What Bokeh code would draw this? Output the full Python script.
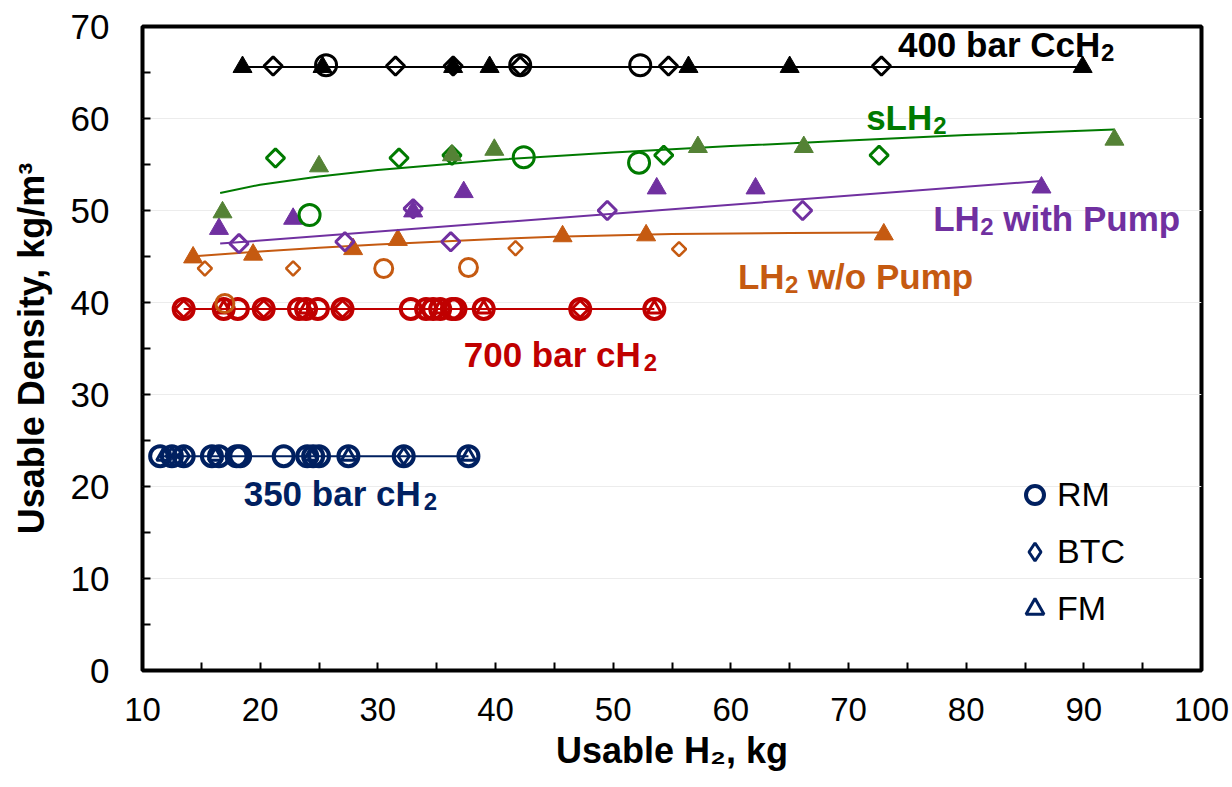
import numpy as np
from bokeh.plotting import figure
from bokeh.models import FixedTicker, Legend, LegendItem
from bokeh.core.properties import value
from bokeh.embed import file_html
from bokeh.resources import INLINE

# ---------------------------------------------------------------- data
# Usable H2 (kg) and usable density (kg/m3) per storage system and method
# RM = circles, BTC = diamonds, FM = triangles

# 350 bar cH2
h350_rm_x = [11.5, 12.5, 13.5, 15.9, 16.5, 18.0, 18.3, 22.0, 24.0, 24.5, 25.0, 27.5, 32.2, 37.7]
h350_rm_y = [23.3] * len(h350_rm_x)
h350_btc_x = [12.5, 13.5, 32.2]
h350_btc_y = [23.3] * len(h350_btc_x)
h350_fm_x = [11.8, 16.2, 24.3, 27.5, 37.7]
h350_fm_y = [23.3] * len(h350_fm_x)
h350_fit_x = [11.5, 37.7]
h350_fit_y = [23.3, 23.3]

# 700 bar cH2
h700_rm_x = [13.5, 16.9, 18.1, 20.3, 23.3, 23.9, 24.9, 27.0, 32.8, 34.1, 34.7,
             35.3, 36.3, 36.6, 39.0, 47.2, 53.5]
h700_rm_y = [39.3] * len(h700_rm_x)
h700_btc_x = [13.5, 20.3, 27.0, 47.2]
h700_btc_y = [39.3] * len(h700_btc_x)
h700_fm_x = [16.9, 23.9, 35.3, 39.0, 53.5]
h700_fm_y = [39.3] * len(h700_fm_x)
h700_fit_x = [13.5, 53.5]
h700_fit_y = [39.3, 39.3]

# LH2 without pump
lh2_rm_x = [17.0, 30.5, 37.7]
lh2_rm_y = [39.9, 43.7, 43.8]
lh2_btc_x = [15.3, 22.8, 41.7, 55.6]
lh2_btc_y = [43.7, 43.7, 45.9, 45.8]
lh2_fm_x = [14.3, 19.4, 27.9, 31.7, 45.7, 52.8, 73.0]
lh2_fm_y = [44.9, 45.2, 45.8, 46.8, 47.2, 47.3, 47.4]
lh2_fit_x = [14.1, 20.0, 25.0, 30.0, 35.0, 40.0, 45.0, 55.0, 65.0, 73.0]
lh2_fit_y = [45.0, 45.55, 45.95, 46.3, 46.6, 46.9, 47.15, 47.45, 47.55, 47.6]

# LH2 with pump
lh2p_btc_x = [18.2, 27.2, 33.0, 36.2, 49.5, 66.1]
lh2p_btc_y = [46.4, 46.6, 50.2, 46.6, 50.0, 50.0]
lh2p_fm_x = [16.5, 22.8, 33.0, 37.3, 53.7, 62.1, 86.4]
lh2p_fm_y = [48.0, 49.1, 49.9, 52.0, 52.4, 52.4, 52.5]
lh2p_fit_x = [16.6, 86.4]
lh2p_fit_y = [46.4, 53.2]

# sLH2
slh2_rm_x = [24.2, 42.4, 52.2]
slh2_rm_y = [49.5, 55.8, 55.2]
slh2_btc_x = [21.3, 31.8, 36.3, 54.3, 72.6]
slh2_btc_y = [55.7, 55.7, 56.0, 56.0, 56.0]
slh2_fm_x = [16.8, 25.0, 36.3, 39.9, 57.2, 66.2, 92.6]
slh2_fm_y = [49.8, 54.8, 56.0, 56.6, 56.9, 56.9, 57.7]
slh2_fit_x = [16.6, 20.0, 25.0, 30.0, 40.0, 50.0, 60.0, 70.0, 80.0, 92.6]
slh2_fit_y = [51.9, 52.8, 53.7, 54.4, 55.5, 56.3, 57.0, 57.6, 58.2, 58.8]

# 400 bar CcH2
cc_rm_x = [25.6, 42.1, 52.3]
cc_rm_y = [65.8, 65.8, 65.8]
cc_btc_x = [21.1, 31.5, 36.4, 42.1, 54.7, 72.8]
cc_btc_y = [65.7] * len(cc_btc_x)
cc_fm_x = [18.5, 25.3, 36.4, 39.5, 56.4, 65.0, 89.9]
cc_fm_y = [65.6] * len(cc_fm_x)
cc_fit_x = [18.5, 89.9]
cc_fit_y = [65.6, 65.6]

x_ticks = [10, 20, 30, 40, 50, 60, 70, 80, 90, 100]
y_ticks = [0, 10, 20, 30, 40, 50, 60, 70]
legend_labels = ["RM", "BTC", "FM"]

# ---------------------------------------------------------------- colours
NAVY = "#002060"
RED = "#C00000"
ORANGE = "#C55A11"
PURPLE = "#7030A0"
GREEN = "#007A00"
OLIVE = "#548235"
BLACK = "#000000"
FONT = "Liberation Sans"

p = figure(width=1232, height=787, x_range=(10, 100), y_range=(0, 70),
           output_backend="svg", toolbar_location=None,
           min_border_left=142, min_border_right=31,
           min_border_top=26, min_border_bottom=117)

p.background_fill_color = "white"
p.border_fill_color = "white"
p.outline_line_color = "black"
p.outline_line_width = 4

p.xgrid.grid_line_color = None
p.ygrid.grid_line_color = "#ececec"
p.ygrid.grid_line_width = 1

p.xaxis.ticker = FixedTicker(ticks=x_ticks, minor_ticks=[t + 5 for t in x_ticks[:-1]])
p.yaxis.ticker = FixedTicker(ticks=y_ticks, minor_ticks=[t + 5 for t in y_ticks[:-1]])

for ax in (p.xaxis[0], p.yaxis[0]):
    ax.axis_line_color = None
    ax.major_tick_in = 8
    ax.major_tick_out = 0
    ax.minor_tick_in = 8
    ax.minor_tick_out = 0
    ax.major_tick_line_color = "black"
    ax.minor_tick_line_color = "black"
    ax.major_tick_line_width = 2
    ax.minor_tick_line_width = 2
    ax.major_label_text_font = FONT
    ax.major_label_text_color = "black"
    ax.axis_label_text_font = FONT
    ax.axis_label_text_font_style = "bold"
    ax.axis_label_text_font_size = "36px"
    ax.axis_label_text_color = "black"

p.xaxis.major_label_text_font_size = "33px"
p.yaxis.major_label_text_font_size = "35px"
p.xaxis.axis_label = "Usable H₂, kg"
p.yaxis.axis_label = "Usable Density, kg/m³"
p.xaxis.major_label_standoff = 27
p.yaxis.major_label_standoff = 33
p.xaxis.axis_label_standoff = 6
p.yaxis.axis_label_standoff = 16


def trend(xs, ys, color):
    p.line(x=xs, y=ys, line_color=color, line_width=2)


def pts(xs, ys, marker, color, size, lw, fill=None, angle=0.0):
    return p.scatter(x=xs, y=ys, marker=marker, size=size, angle=angle,
                     line_color=color, line_width=lw,
                     fill_color=fill)


DIAMOND = dict(marker="square", angle=np.pi / 4)

# 350 bar cH2
trend(h350_fit_x, h350_fit_y, NAVY)
r_rm = pts(h350_rm_x, h350_rm_y, "circle", NAVY, 20, 4)
r_btc = pts(h350_btc_x, h350_btc_y, "diamond", NAVY, 17, 3)
r_fm = pts(h350_fm_x, h350_fm_y, "triangle", NAVY, 14, 3)

# 700 bar cH2
trend(h700_fit_x, h700_fit_y, RED)
pts(h700_rm_x, h700_rm_y, "circle", RED, 20, 4)
p.scatter(x=h700_btc_x, y=h700_btc_y, size=12, line_color=RED,
          line_width=3, fill_color=None, **DIAMOND)
pts(h700_fm_x, h700_fm_y, "triangle", RED, 14, 3)

# LH2 w/o pump
trend(lh2_fit_x, lh2_fit_y, ORANGE)
pts(lh2_rm_x, lh2_rm_y, "circle", ORANGE, 18, 3)
p.scatter(x=lh2_btc_x, y=lh2_btc_y, size=10, line_color=ORANGE,
          line_width=2.5, fill_color=None, **DIAMOND)
pts(lh2_fm_x, lh2_fm_y, "triangle", ORANGE, 19, 1, fill=ORANGE)

# LH2 with pump
trend(lh2p_fit_x, lh2p_fit_y, PURPLE)
p.scatter(x=lh2p_btc_x, y=lh2p_btc_y, size=13, line_color=PURPLE,
          line_width=3, fill_color=None, **DIAMOND)
pts(lh2p_fm_x, lh2p_fm_y, "triangle", PURPLE, 19, 1, fill=PURPLE)

# sLH2
trend(slh2_fit_x, slh2_fit_y, GREEN)
pts(slh2_rm_x, slh2_rm_y, "circle", GREEN, 21, 3)
p.scatter(x=slh2_btc_x, y=slh2_btc_y, size=13, line_color=GREEN,
          line_width=3, fill_color=None, **DIAMOND)
pts(slh2_fm_x, slh2_fm_y, "triangle", OLIVE, 19, 1, fill=OLIVE)

# 400 bar CcH2
trend(cc_fit_x, cc_fit_y, BLACK)
pts(cc_rm_x, cc_rm_y, "circle", BLACK, 21, 3)
p.scatter(x=cc_btc_x, y=cc_btc_y, size=13, line_color=BLACK,
          line_width=3, fill_color=None, **DIAMOND)
pts(cc_fm_x, cc_fm_y, "triangle", BLACK, 19, 1, fill=BLACK)


# series labels with a lowered "2"
def chem_label(x, y, head, tail, color, sub_dx, tail_dx):
    common = dict(text_font=value(FONT), text_font_style="bold",
                  text_color=color, text_baseline="alphabetic", text_align="left")
    p.text(x=[x], y=[y], text=[head], text_font_size="35px", **common)
    p.text(x=[x], y=[y], text=["2"], text_font_size="24px",
           x_offset=sub_dx, y_offset=8, **common)
    if tail:
        p.text(x=[x], y=[y], text=[tail], text_font_size="35px",
               x_offset=tail_dx, **common)


chem_label(74.2, 68.0, "400 bar CcH", "", BLACK, 203, 0)
chem_label(71.5, 60.1, "sLH", "", GREEN, 67, 0)
chem_label(77.2, 49.1, "LH", "with Pump", PURPLE, 47, 70)
chem_label(60.6, 42.8, "LH", "w/o Pump", ORANGE, 47, 70)
chem_label(37.3, 34.3, "700 bar cH", "", RED, 180, 0)
chem_label(18.6, 19.2, "350 bar cH", "", NAVY, 180, 0)

legend = Legend(items=[LegendItem(label=legend_labels[0], renderers=[r_rm]),
                       LegendItem(label=legend_labels[1], renderers=[r_btc]),
                       LegendItem(label=legend_labels[2], renderers=[r_fm])],
                location=(870, 39), orientation="vertical",
                glyph_width=45, glyph_height=45, spacing=12,
                label_standoff=0, padding=0, margin=0,
                border_line_color=None, background_fill_alpha=0,
                label_text_font=FONT, label_text_font_size="34px",
                label_text_color="black")
p.add_layout(legend, "center")

open("out.html", "w").write(file_html(p, INLINE))
